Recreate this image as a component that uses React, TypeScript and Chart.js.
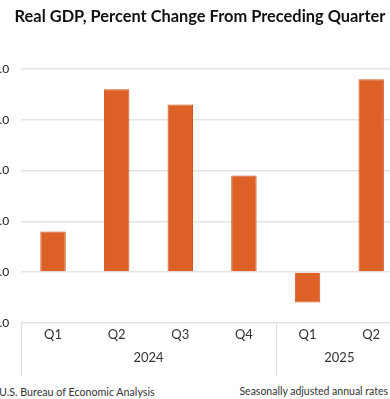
import { useEffect, useRef } from 'react';
import { Chart, registerables } from 'chart.js';
Chart.register(...registerables);

const chartTitle = 'Real GDP, Percent Change From Preceding Quarter';
const quarters = ['Q1', 'Q2', 'Q3', 'Q4', 'Q1', 'Q2'];
const quarterYears = ['2024', '2024', '2024', '2024', '2025', '2025'];
const gdpChange = [0.8, 3.6, 3.3, 1.9, -0.6, 3.8];
const yTicks = [4, 3, 2, 1, 0, -1];
const sourceNote = 'U.S. Bureau of Economic Analysis';
const rateNote = 'Seasonally adjusted annual rates';

type Group = { year: string; start: number; end: number };
const yearGroups: Group[] = [];
quarterYears.forEach((y, i) => {
  const last = yearGroups[yearGroups.length - 1];
  if (last && last.year === y) last.end = i;
  else yearGroups.push({ year: y, start: i, end: i });
});
const groupCenter = (g: Group) => (g.start + g.end) / 2;

const separatorPlugin = {
  id: 'yearSeparators',
  afterDraw(chart: any) {
    const s = chart.scales.x2;
    const ctx = chart.ctx;
    const top = chart.chartArea.bottom;
    const bounds = [yearGroups[0].start - 0.5, ...yearGroups.map((g) => g.end + 0.5)];
    ctx.save();
    ctx.strokeStyle = '#dedede';
    ctx.lineWidth = 1;
    bounds.forEach((b) => {
      const x = Math.round(s.getPixelForValue(b)) + 0.5;
      ctx.beginPath();
      ctx.moveTo(x, top);
      ctx.lineTo(x, s.bottom + 7);
      ctx.stroke();
    });
    ctx.restore();
  },
};

export default function App() {
  const ref = useRef<HTMLCanvasElement | null>(null);
  useEffect(() => {
    if (!ref.current) return;
    const chart = new Chart(ref.current, {
      type: 'bar',
      data: {
        labels: quarters,
        datasets: [
          {
            data: gdpChange,
            backgroundColor: '#DD6127',
            borderColor: '#D0561D',
            borderWidth: 1,
            categoryPercentage: 1,
            barPercentage: 0.4,
          },
        ],
      },
      plugins: [separatorPlugin],
      options: {
        animation: false,
        responsive: true,
        maintainAspectRatio: false,
        layout: { padding: { left: 11, right: 17, top: 69, bottom: 11 } },
        plugins: {
          legend: { display: false },
          tooltip: { enabled: false },
          title: { display: false },
        },
        scales: {
          y: {
            min: -1,
            max: 4,
            afterBuildTicks: (s: any) => {
              s.ticks = yTicks.map((v) => ({ value: v }));
            },
            ticks: {
              callback: (v: any) => Number(v).toFixed(1),
              font: { family: 'Lato', size: 12 },
              color: '#1a1a1a',
              padding: 12,
            },
            grid: { color: '#e4e4e4', lineWidth: 1.5, drawTicks: false },
            border: { display: false },
          },
          x: {
            grid: { display: false, drawTicks: false },
            border: { display: false },
            ticks: {
              font: { family: 'Lato', size: 13 },
              color: '#333',
              padding: 4,
              autoSkip: false,
              maxRotation: 0,
            },
          },
          x2: {
            type: 'linear',
            position: 'bottom',
            offset: false,
            min: -0.5,
            max: quarters.length - 0.5,
            afterBuildTicks: (s: any) => {
              s.ticks = yearGroups.map((g) => ({ value: groupCenter(g) }));
            },
            ticks: {
              callback: (v: any) => yearGroups.find((g) => groupCenter(g) === v)?.year ?? '',
              font: { family: 'Lato', size: 13 },
              color: '#333',
              padding: 3.5,
              autoSkip: false,
              maxRotation: 0,
            },
            grid: { display: false, drawTicks: false, offset: false },
            border: { display: false },
          },
        },
      } as any,
    });
    return () => chart.destroy();
  }, []);

  return (
    <div
      style={{
        position: 'fixed',
        left: 0,
        top: 0,
        width: 390,
        height: 399,
        overflow: 'hidden',
        background: '#fff',
      }}
    >
      <div style={{ position: 'absolute', left: -35, top: 0, width: 455, height: 380 }}>
        <canvas ref={ref} />
      </div>
      <div
        style={{
          position: 'absolute',
          left: 0,
          width: 400,
          top: 6,
          textAlign: 'center',
          font: 'bold 16.4px Lato',
          color: '#111',
          whiteSpace: 'nowrap',
        }}
      >
        {chartTitle}
      </div>
      <div
        style={{
          position: 'absolute',
          left: -1,
          top: 385,
          font: '10.7px Lato',
          color: '#333',
          whiteSpace: 'nowrap',
        }}
      >
        {sourceNote}
      </div>
      <div
        style={{
          position: 'absolute',
          right: 2,
          top: 385,
          font: '10.5px Lato',
          color: '#333',
          whiteSpace: 'nowrap',
        }}
      >
        {rateNote}
      </div>
    </div>
  );
}
